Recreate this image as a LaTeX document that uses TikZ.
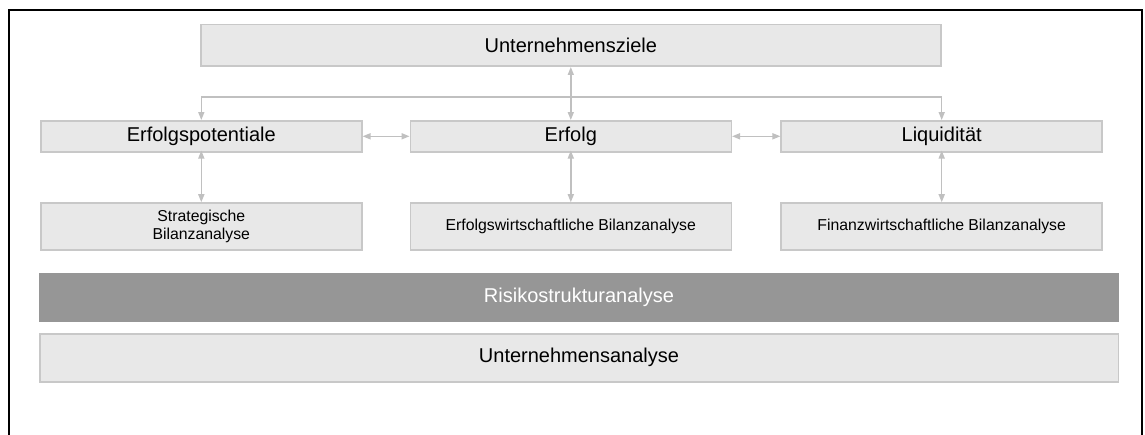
\documentclass[tikz,border=0pt]{standalone}
\usepackage{fontspec}
\setmainfont{Liberation Sans}
\usetikzlibrary{arrows.meta}

\definecolor{boxfill}{RGB}{232,232,232}
\definecolor{boxline}{RGB}{200,200,200}
\definecolor{arrowgray}{RGB}{192,192,192}
\definecolor{barfill}{RGB}{150,150,150}

\tikzset{
  panel/.style={rectangle, fill=boxfill, draw=boxline, line width=1.5pt,
    inner sep=0pt, align=center, text=black},
  bigbox/.style={panel, font=\fontsize{20}{24}\selectfont},
  smallbox/.style={panel, font=\fontsize{15.8}{18.3}\selectfont},
  darkbar/.style={rectangle, fill=barfill, draw=none, inner sep=0pt,
    text=white, font=\fontsize{20}{24}\selectfont},
  conn/.style={draw=arrowgray, line width=1.5pt,
    {Triangle[length=8pt,width=6pt]}-{Triangle[length=8pt,width=6pt]}},
}

\begin{document}
\begin{tikzpicture}[x=1pt,y=-1pt]
  \useasboundingbox (0,0) rectangle (1145,435);
  \fill[white] (0,0) rectangle (1145,435);

  % outer frame, open at the bottom
  \draw[black, line width=2pt] (9,436) -- (9,10) -- (1142,10) -- (1142,436);

  % goals
  \node[bigbox, minimum width=740pt, minimum height=41.5pt] (zi) at (570.8,45.5) {Unternehmensziele};

  % target dimensions
  \node[bigbox, minimum width=321pt, minimum height=31pt] (ep) at (201.3,136.3) {Erfolgspotentiale};
  \node[bigbox, minimum width=321pt, minimum height=31pt] (ef) at (570.8,136.3) {Erfolg};
  \node[bigbox, minimum width=321pt, minimum height=31pt] (lq) at (941.7,136.3) {Liquidität};

  % balance sheet analyses
  \node[smallbox, minimum width=321pt, minimum height=47pt] (sb) at (201.3,226.5) {Strategische\\Bilanzanalyse};
  \node[smallbox, minimum width=321pt, minimum height=47pt] (eb) at (570.8,226.5) {Erfolgswirtschaftliche Bilanzanalyse};
  \node[smallbox, minimum width=321pt, minimum height=47pt] (fb) at (941.7,226.5) {Finanzwirtschaftliche Bilanzanalyse};

  % base layers
  \node[darkbar, minimum width=1080pt, minimum height=49pt] (rs) at (579,297.2) {Risikostrukturanalyse};
  \node[bigbox, minimum width=1078.5pt, minimum height=48pt] (ua) at (579,357.8) {Unternehmensanalyse};

  % connectors
  \draw[conn] (zi.south) -- (ef.north);
  \draw[conn] (ep.north) -- ++(0,-23) -| (lq.north);
  \draw[conn] (ep.east) -- (ef.west);
  \draw[conn] (ef.east) -- (lq.west);
  \draw[conn] ([yshift=2pt]ep.south) -- (sb.north);
  \draw[conn] ([yshift=2pt]ef.south) -- (eb.north);
  \draw[conn] ([yshift=2pt]lq.south) -- (fb.north);
\end{tikzpicture}
\end{document}
